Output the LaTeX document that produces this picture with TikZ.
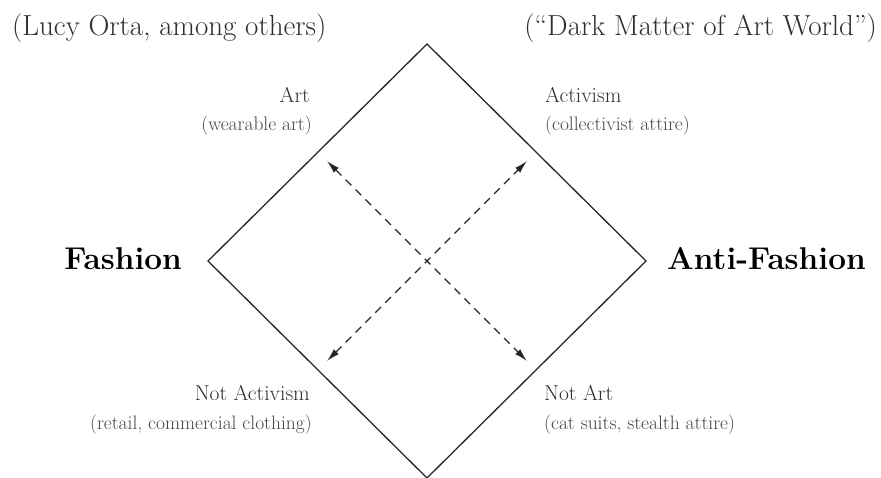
\documentclass[tikz,border=0pt]{standalone}
\usepackage{fontspec}
\usetikzlibrary{arrows.meta}

\definecolor{inkgray}{HTML}{2E2E2E}
\definecolor{subgray}{HTML}{444444}

\tikzset{
    quadlabel/.style={inner sep=0pt, text=inkgray, font=\fontsize{21.5}{23}\selectfont},
    quadnote/.style={inner sep=0pt, text=subgray, font=\fontsize{19.5}{21}\selectfont},
    polelabel/.style={inner sep=0pt, text=black, font=\fontsize{31.5}{33}\selectfont\bfseries},
    toplabel/.style={inner sep=0pt, text=inkgray, font=\fontsize{29}{31}\selectfont},
    axisarrow/.style={<->, >={Latex[length=13pt,width=7pt]}, dash pattern=on 8pt off 6pt, line width=1.3pt, draw=black!85},
}

\begin{document}
\begin{tikzpicture}[x=1pt, y=-1pt]
    \useasboundingbox (0,0) rectangle (881,477);

    % diamond
    \coordinate (top) at (427,44);
    \coordinate (left) at (208,261);
    \coordinate (right) at (646,261);
    \coordinate (bottom) at (427,478);
    \draw[line width=1.3pt, draw=black!85] (top) -- (right) -- (bottom) -- (left) -- cycle;

    % axes
    \coordinate (artend) at (327,161);
    \coordinate (activend) at (527,161);
    \coordinate (notactivend) at (327,361);
    \coordinate (notartend) at (527,361);
    \draw[axisarrow] (artend) -- (notartend);
    \draw[axisarrow] (notactivend) -- (activend);

    % poles
    \node[polelabel, anchor=base east] (fashion) at (182,269) {Fashion};
    \node[polelabel, anchor=base west] (antifashion) at (667,269) {Anti-Fashion};

    % quadrants
    \node[quadlabel, anchor=base east] (art) at (310,102) {Art};
    \node[quadnote, anchor=base east] (artnote) at (312,130) {(wearable art)};
    \node[quadlabel, anchor=base west] (activism) at (545,102) {Activism};
    \node[quadnote, anchor=base west] (activnote) at (545,130) {(collectivist attire)};
    \node[quadlabel, anchor=base east] (notactivism) at (310,400) {Not Activism};
    \node[quadnote, anchor=base east] (notactivnote) at (312,429) {(retail, commercial clothing)};
    \node[quadlabel, anchor=base west] (notart) at (544,400) {Not Art};
    \node[quadnote, anchor=base west] (notartnote) at (544,429) {(cat suits, stealth attire)};

    % corner remarks
    \node[toplabel, anchor=base west] (orta) at (12,35) {(Lucy Orta, among others)};
    \node[toplabel, anchor=base east] (darkmatter) at (877,35) {(``Dark Matter of Art World'')};
\end{tikzpicture}
\end{document}
